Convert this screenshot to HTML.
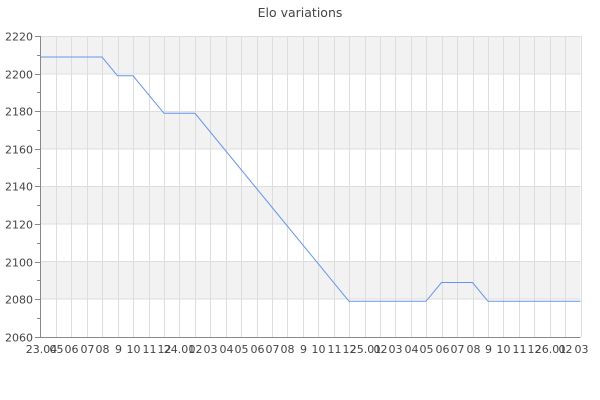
<!DOCTYPE html>
<html><head><style>body{margin:0;background:#fff}svg{display:block}</style></head><body>
<svg width="600" height="400" xmlns="http://www.w3.org/2000/svg" font-family="DejaVu Sans, Liberation Sans, sans-serif">
<rect width="600" height="400" fill="#fff"/>
<text x="300" y="17" text-anchor="middle" font-size="12.5" fill="#444">Elo variations</text>
<g fill="#f2f2f2">
<rect x="40.5" y="36" width="540" height="37.6"/>
<rect x="40.5" y="111.2" width="540" height="37.6"/>
<rect x="40.5" y="186.4" width="540" height="37.6"/>
<rect x="40.5" y="261.6" width="540" height="37.6"/>
</g>
<g stroke="#dddddd" stroke-width="1">
<line x1="40.5" x2="580.5" y1="36.5" y2="36.5"/>
<line x1="40.5" x2="580.5" y1="74" y2="74"/>
<line x1="40.5" x2="580.5" y1="111.5" y2="111.5"/>
<line x1="40.5" x2="580.5" y1="149" y2="149"/>
<line x1="40.5" x2="580.5" y1="186.5" y2="186.5"/>
<line x1="40.5" x2="580.5" y1="224" y2="224"/>
<line x1="40.5" x2="580.5" y1="261.5" y2="261.5"/>
<line x1="40.5" x2="580.5" y1="299" y2="299"/>
</g>
<g id="vg" stroke="#dddddd"></g>
<polyline fill="none" stroke="#6495ed" stroke-width="1" points="40.5,57 102,57 117.5,75.8 133,75.8 164,113.3 195,113.3 349,301.3 426,301.3 441.5,282.5 472.5,282.5 488,301.3 580.5,301.3"/>
<g stroke="#888" stroke-width="1">
<line x1="40.5" y1="36" x2="40.5" y2="337"/>
<line x1="40.5" y1="337.5" x2="580.5" y2="337.5"/>
</g>
<g id="yt" stroke="#888"></g>
<g font-size="11" fill="#444" text-anchor="end" id="yl"></g>
<g font-size="11" fill="#444" text-anchor="middle" id="xl"></g>
<script>
var ns="http://www.w3.org/2000/svg";
function el(p,t,a,txt){var e=document.createElementNS(ns,t);for(var k in a)e.setAttribute(k,a[k]);if(txt!==undefined)e.textContent=txt;document.getElementById(p).appendChild(e);}
var labs=["23.04","05","06","07","08","9","10","11","12","24.01","02","03","04","05","06","07","08","9","10","11","12","25.01","02","03","04","05","06","07","08","9","10","11","12","26.01","02","03"];
for(var i=0;i<36;i++){var x=40.5+i*540/35;x=Math.round(x)+0.5;
 if(i>0)el("vg","line",{x1:x,x2:x,y1:36,y2:337});
 el("xl","text",{x:x,y:353},labs[i]);}
for(var j=0;j<=16;j++){var y=36+j*18.8;var yy=Math.round(y)+0.5;
 el("yt","line",{x1:(j%2==0?35:37),x2:40.5,y1:yy,y2:yy});
 if(j%2==0)el("yl","text",{x:33,y:yy+4},String(2220-j*10));}
</script>
</svg>
</body></html>
